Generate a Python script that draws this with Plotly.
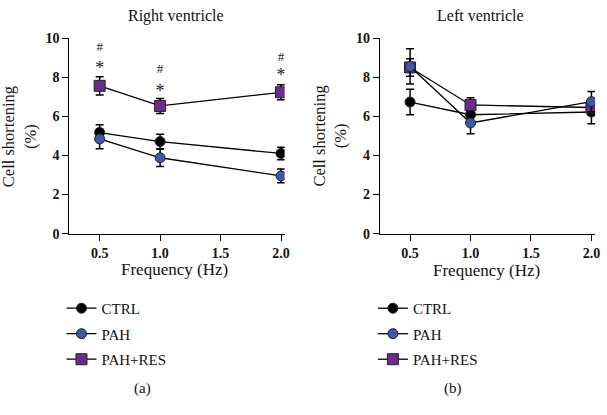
import plotly.graph_objects as go

# frequencies (Hz)
freq = [0.5, 1.0, 2.0]
groups = ["CTRL", "PAH", "PAH+RES"]

# right ventricle cell shortening (%)
rv_ctrl = [5.17, 4.71, 4.10]
rv_ctrl_err = [0.40, 0.37, 0.32]
rv_pah = [4.84, 3.88, 2.95]
rv_pah_err = [0.50, 0.45, 0.35]
rv_res = [7.56, 6.53, 7.23]
rv_res_err = [0.47, 0.38, 0.38]

# left ventricle cell shortening (%)
lv_ctrl = [6.73, 6.08, 6.22]
lv_ctrl_err = [0.65, 0.40, 0.60]
lv_pah = [8.55, 5.66, 6.75]
lv_pah_err = [0.90, 0.55, 0.52]
lv_res = [8.50, 6.58, 6.45]
lv_res_err = [0.45, 0.37, 0.40]

# significance marks (right ventricle)
star_x = [0.5, 1.0, 2.0]
star_y = [8.40, 7.20, 8.06]
hash_x = [0.5, 1.0, 2.0]
hash_y = [9.50, 8.36, 9.00]

colors = {"CTRL": "#000000", "PAH": "#3d58a6", "PAH+RES": "#6c2b8f"}
symbols = {"CTRL": "circle", "PAH": "circle", "PAH+RES": "square"}
sizes = {"CTRL": 10, "PAH": 10, "PAH+RES": 11}
rank = {"CTRL": 1, "PAH": 2, "PAH+RES": 3}

FONT = "Liberation Serif"
W, H = 607, 415
TOP, BOT = 0, 160          # margins (px)
PH = H - TOP - BOT         # plot-area height


def py(px):
    # pixel row -> paper fraction
    return (H - BOT - px) / PH


fig = go.Figure()

panels = [
    ("x", "y", "legend", ["CTRL", "PAH", "PAH+RES"],
     {"CTRL": (rv_ctrl, rv_ctrl_err), "PAH": (rv_pah, rv_pah_err), "PAH+RES": (rv_res, rv_res_err)}),
    ("x2", "y2", "legend2", ["CTRL", "PAH+RES", "PAH"],
     {"CTRL": (lv_ctrl, lv_ctrl_err), "PAH": (lv_pah, lv_pah_err), "PAH+RES": (lv_res, lv_res_err)}),
]

for xa, ya, leg, order, series in panels:
    for g in order:
        vals, errs = series[g]
        fig.add_trace(go.Scatter(
            x=freq, y=vals, name=g, mode="lines+markers",
            xaxis=xa, yaxis=ya, legend=leg, legendgroup=leg + g, legendrank=rank[g],
            line=dict(color="black", width=1.3),
            marker=dict(color=colors[g], symbol=symbols[g], size=sizes[g],
                        line=dict(color="#222222", width=1)),
            error_y=dict(type="data", array=errs, visible=True, color="black",
                         thickness=1.5, width=4),
        ))

fig.add_trace(go.Scatter(x=star_x, y=star_y, mode="text", text=["*"] * 3,
                         textfont=dict(family=FONT, size=18, color="#222"),
                         showlegend=False, xaxis="x", yaxis="y"))
fig.add_trace(go.Scatter(x=hash_x, y=hash_y, mode="text", text=["#"] * 3,
                         textfont=dict(family=FONT, size=13, color="#222"),
                         showlegend=False, xaxis="x", yaxis="y"))

ydom = [py(233), py(32)]
axis_common = dict(showline=True, linecolor="black", linewidth=1.2, ticks="outside",
                   ticklen=6, tickwidth=1.2, tickcolor="black", showgrid=False, zeroline=False,
                   tickfont=dict(family=FONT, size=14, color="#111", weight="bold"))
xticks = dict(range=[0.25, 2.03], tickvals=[0.5, 1.0, 1.5, 2.0], ticktext=["0.5", "1.0", "1.5", "2.0"])
yticks = dict(range=[0, 10], tickvals=[0, 2, 4, 6, 8, 10])

fig.update_layout(
    width=W, height=H, margin=dict(l=0, r=0, t=TOP, b=BOT),
    plot_bgcolor="white", paper_bgcolor="white",
    font=dict(family=FONT, color="#111"),
    xaxis=dict(domain=[70 / W, 287 / W], anchor="y", **xticks, **axis_common),
    yaxis=dict(domain=ydom, anchor="x", **yticks, **axis_common),
    xaxis2=dict(domain=[383 / W, 600 / W], anchor="y2", **xticks, **axis_common),
    yaxis2=dict(domain=ydom, anchor="x2", **yticks, **axis_common),
    legend=dict(x=62 / W, y=py(293), xanchor="left", yanchor="top", traceorder="grouped",
                tracegroupgap=3, font=dict(family=FONT, size=15), bgcolor="rgba(0,0,0,0)"),
    legend2=dict(x=376 / W, y=py(293), xanchor="left", yanchor="top", traceorder="grouped",
                 tracegroupgap=3, font=dict(family=FONT, size=15), bgcolor="rgba(0,0,0,0)"),
    showlegend=True,
)


def text(x, y, s, size, angle=0):
    fig.add_annotation(x=x / W, y=py(y), xref="paper", yref="paper", text=s,
                       showarrow=False, textangle=angle, xanchor="center", yanchor="middle",
                       font=dict(family=FONT, size=size, color="#111"))


text(177, 9, "Right ventricle", 16)
text(484, 9, "Left ventricle", 16)
text(176, 270, "Frequency (Hz)", 17)
text(491, 271, "Frequency (Hz)", 17)
text(20, 133, "Cell shortening<br>(%)", 16.5, -90)
text(333, 133, "Cell shortening<br>(%)", 16.5, -90)
text(144, 392, "(a)", 15)
text(457, 392, "(b)", 15)

# drop the browser's default 8px page margin so the figure sits at the corner
fig.write_html("out.html", config={"displayModeBar": False},
               post_script="document.body.style.margin='0px';")
